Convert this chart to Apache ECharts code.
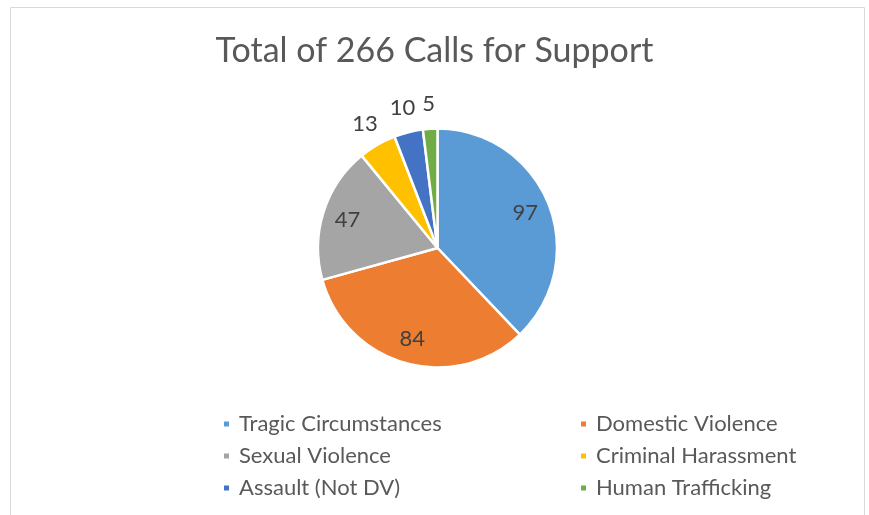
<!DOCTYPE html>
<html><head><meta charset="utf-8">
<script src="https://cdn.jsdelivr.net/npm/echarts@6/dist/echarts.min.js"></script>
<style>html,body{margin:0;padding:0;background:#fff}#c{width:869px;height:515px}</style>
</head><body><div id="c"></div>
<script>
const categories = ["Tragic Circumstances","Domestic Violence","Sexual Violence","Criminal Harassment","Assault (Not DV)","Human Trafficking"];
const values = [97,84,47,13,10,5];
const colors = ["#5B9BD5","#ED7D31","#A5A5A5","#FFC000","#4472C4","#70AD47"];
const titleText = "Total of 266 Calls for Support";
const insideLabeled = [true,true,true,false,false,false];

const FONT = "Lato, 'Open Sans', sans-serif";
const chart = echarts.init(document.getElementById('c'));
const data = categories.map((n,i)=>({name:n,value:values[i],itemStyle:{color:colors[i]}}));
const center = [437.5, 248];
function overlay(r, flagFn){
  return {
    type:'pie', radius:r, center:center, silent:true, startAngle:90, clockwise:true,
    itemStyle:{color:'rgba(0,0,0,0)', borderWidth:0},
    labelLine:{show:false}, emphasis:{disabled:true}, legendHoverLink:false,
    data: categories.map((n,i)=>({name:n+' ', value:values[i],
      label:{show:flagFn(i), position:'inside', formatter:String(values[i]),
        fontFamily:FONT, fontSize:22, color:'#404040'}})),
    z:5
  };
}
const legendText = {fontFamily:FONT, fontSize:22, color:'#595959', lineHeight:22, padding:[0,0,0,4]};
chart.setOption({
  animation:false,
  title:{text:titleText, left:'center', top:29, textStyle:{fontFamily:FONT, fontSize:34, fontWeight:'normal', color:'#595959'}},
  graphic:[{type:'rect', shape:{x:10.5,y:7.5,width:854,height:520}, style:{fill:'none', stroke:'#d9d9d9', lineWidth:1}, silent:true}],
  legend:[
    {data:[categories[0],categories[2],categories[4]], orient:'vertical', left:217, top:408, itemWidth:7, itemHeight:7, itemGap:10, icon:'rect', textStyle:legendText},
    {data:[categories[1],categories[3],categories[5]], orient:'vertical', left:574, top:408, itemWidth:7, itemHeight:7, itemGap:10, icon:'rect', textStyle:legendText}
  ],
  series:[
    {type:'pie', radius:[0,119.5], center:center, startAngle:90, clockwise:true,
     itemStyle:{borderColor:'#fff', borderWidth:2.5}, label:{show:false}, labelLine:{show:false},
     emphasis:{disabled:true}, data:data, z:2},
    overlay([63,120], i=>insideLabeled[i]),
    overlay([123,159], i=>!insideLabeled[i])
  ]
});
</script></body></html>
